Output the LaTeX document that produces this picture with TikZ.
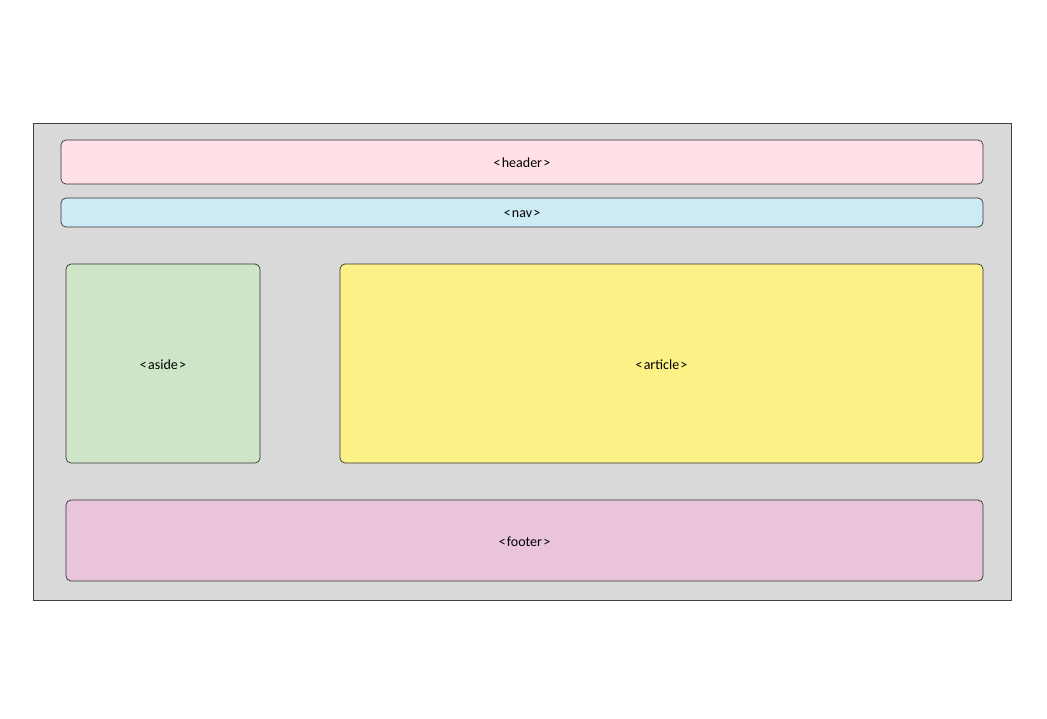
\documentclass[tikz,border=0pt]{standalone}
\usepackage{fontspec}
\setmainfont{Carlito}
\usepackage{xcolor}
\usepackage{tikz}

\definecolor{pagegray}{HTML}{D9D9D9}
\definecolor{headerpink}{HTML}{FFE0E6}
\definecolor{navblue}{HTML}{CDEBF5}
\definecolor{asidegreen}{HTML}{CFE5C8}
\definecolor{articleyellow}{HTML}{FCF186}
\definecolor{footerpink}{HTML}{EAC4DA}

\newcommand{\tagname}[1]{\raisebox{-2pt}{<\kern1.2pt#1\kern1.2pt>}}

\begin{document}
\begin{tikzpicture}[x=1pt, y=-1pt,
        page/.style={rectangle, draw=black!75, line width=0.8pt, fill=pagegray},
        block/.style={rectangle, rounded corners=5pt, draw=black!80, line width=0.7pt, inner sep=0pt, text depth=0pt, font=\fontsize{14}{16}\selectfont}
    ]
        \useasboundingbox (0,0) rectangle (1047,718);
        \node[page, minimum width=978pt, minimum height=477pt] (body) at (522,361.5) {};

        \node[block, fill=headerpink, minimum width=922pt, minimum height=44pt] (header) at (522,162) {\tagname{header}};
        \node[block, fill=navblue, minimum width=922pt, minimum height=29pt] (nav) at (522,212.5) {\tagname{nav}};

        \node[block, fill=asidegreen, minimum width=194pt, minimum height=199pt] (aside) at (163,363.5) {\tagname{aside}};
        \node[block, fill=articleyellow, minimum width=643pt, minimum height=199pt] (article) at (661.5,363.5) {\tagname{article}};

        \node[block, fill=footerpink, minimum width=917pt, minimum height=81pt] (footer) at (524.5,540.5) {\tagname{footer}};
    \end{tikzpicture}
\end{document}
